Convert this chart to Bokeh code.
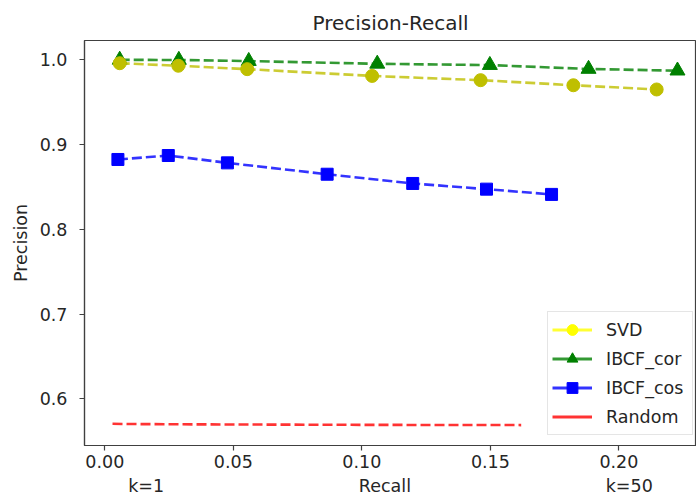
from bokeh.plotting import figure
from bokeh.models import (Range1d, FixedTicker, Legend, LegendItem,
                          NumeralTickFormatter)
from bokeh.embed import file_html
from bokeh.resources import INLINE

# ---- data ----
svd_recall = [0.0058, 0.0286, 0.0554, 0.1040, 0.1462, 0.1823, 0.2147]
svd_precision = [0.996, 0.993, 0.989, 0.981, 0.976, 0.970, 0.965]
cor_recall = [0.0058, 0.0288, 0.0560, 0.1060, 0.1498, 0.1882, 0.2228]
cor_precision = [1.000, 0.9998, 0.9985, 0.9953, 0.9938, 0.9892, 0.9872]
cos_recall = [0.0051, 0.0247, 0.0477, 0.0865, 0.1198, 0.1485, 0.1738]
cos_precision = [0.8824, 0.8871, 0.8784, 0.8650, 0.8541, 0.8474, 0.8412]
rnd_recall = [0.003, 0.008, 0.017, 0.038, 0.072, 0.112, 0.162]
rnd_precision = [0.5705, 0.5703, 0.5701, 0.5698, 0.5695, 0.5692, 0.5690]
x_ticks = [0.0, 0.05, 0.10, 0.15, 0.20]
y_ticks = [0.6, 0.7, 0.8, 0.9, 1.0]
series_names = ["SVD", "IBCF_cor", "IBCF_cos", "Random"]

FONT = "DejaVu Sans"
TXT = "#262626"
SPINE = "#404040"
FS = "17.5px"
GAP = "\u00a0" * 35
x_label = "k=1" + GAP + "Recall" + GAP + "k=50"

Y0, Y1 = 0.5449, 1.0228
p = figure(width=696, height=500, output_backend="svg", toolbar_location=None,
           x_range=Range1d(-0.0079, 0.2302), y_range=Range1d(Y0, Y1),
           min_border_left=84, min_border_right=0, min_border_top=40,
           min_border_bottom=55, title="Precision-Recall")
p.outline_line_color = SPINE
p.outline_line_width = 1.2
p.xgrid.visible = False
p.ygrid.visible = False
p.background_fill_color = "white"
p.border_fill_color = "white"

p.title.text_font = FONT
p.title.text_font_size = "20px"
p.title.text_font_style = "normal"
p.title.text_color = TXT
p.title.align = "center"
p.title.standoff = 11

for ax in (p.xaxis[0], p.yaxis[0]):
    ax.axis_line_color = SPINE
    ax.axis_line_width = 1.2
    ax.major_tick_line_color = SPINE
    ax.major_tick_line_width = 1.2
    ax.major_tick_in = 0
    ax.major_tick_out = 5
    ax.minor_tick_line_color = None
    ax.major_label_text_font = FONT
    ax.major_label_text_font_size = FS
    ax.major_label_text_color = TXT
    ax.axis_label_text_font = FONT
    ax.axis_label_text_font_size = FS
    ax.axis_label_text_font_style = "normal"
    ax.axis_label_text_color = TXT

p.xaxis.ticker = FixedTicker(ticks=x_ticks)
p.xaxis.formatter = NumeralTickFormatter(format="0.00")
p.xaxis.major_label_standoff = 4
p.xaxis.axis_label = x_label
p.xaxis.axis_label_standoff = 5

p.yaxis.ticker = FixedTicker(ticks=y_ticks)
p.yaxis.formatter = NumeralTickFormatter(format="0.0")
p.yaxis.major_label_standoff = 12
p.yaxis.axis_label = "Precision"
p.yaxis.axis_label_standoff = 6

DASH = "10 4"
LW = 2.6

# IBCF_cor
p.line(cor_recall, cor_precision, line_color="#008000", line_alpha=0.8,
       line_width=LW, line_dash=DASH)
p.scatter(cor_recall, cor_precision, marker="triangle", size=15,
          fill_color="#008000", line_color="#008000")
# SVD
p.line(svd_recall, svd_precision, line_color="#bfbf00", line_alpha=0.8,
       line_width=LW, line_dash=DASH)
p.scatter(svd_recall, svd_precision, marker="circle", size=13,
          fill_color="#bfbf00", line_color="#bfbf00")
# IBCF_cos
p.line(cos_recall, cos_precision, line_color="#0000ff", line_alpha=0.8,
       line_width=LW, line_dash=DASH)
p.scatter(cos_recall, cos_precision, marker="square", size=12,
          fill_color="#0000ff", line_color="#0000ff")
# Random
p.line(rnd_recall, rnd_precision, line_color="#ff0000", line_alpha=0.8,
       line_width=LW, line_dash=DASH)

# hidden legend proxies (the legend uses pure colours)
def proxy_line(xs, ys, color):
    r = p.line(xs, ys, line_color=color, line_alpha=0.8, line_width=3)
    r.visible = False
    return r

def proxy_marker(xs, ys, marker, color):
    r = p.scatter(xs, ys, marker=marker, fill_color=color, line_color=color)
    r.visible = False
    return r

l1 = proxy_line(svd_recall, svd_precision, "#ffff00")
m1 = proxy_marker(svd_recall, svd_precision, "circle", "#ffff00")
l2 = proxy_line(cor_recall, cor_precision, "#008000")
m2 = proxy_marker(cor_recall, cor_precision, "triangle", "#008000")
l3 = proxy_line(cos_recall, cos_precision, "#0000ff")
m3 = proxy_marker(cos_recall, cos_precision, "square", "#0000ff")
l4 = proxy_line(rnd_recall, rnd_precision, "#ff0000")

legend = Legend(items=[
    LegendItem(label=series_names[0], renderers=[l1, m1]),
    LegendItem(label=series_names[1], renderers=[l2, m2]),
    LegendItem(label=series_names[2], renderers=[l3, m3]),
    LegendItem(label=series_names[3], renderers=[l4]),
], location=(463, 10))
legend.border_line_color = "#cccccc"
legend.border_line_width = 1
legend.background_fill_color = "white"
legend.background_fill_alpha = 0.8
legend.inactive_fill_alpha = 0
legend.click_policy = "none"
legend.label_text_font = FONT
legend.label_text_font_size = FS
legend.label_text_color = TXT
legend.glyph_width = 40
legend.glyph_height = 27
legend.label_height = 20
legend.label_width = 82
legend.spacing = 2
legend.padding = 4
legend.margin = 0
legend.label_standoff = 14
p.add_layout(legend)

open("out.html", "w").write(file_html(p, INLINE))
